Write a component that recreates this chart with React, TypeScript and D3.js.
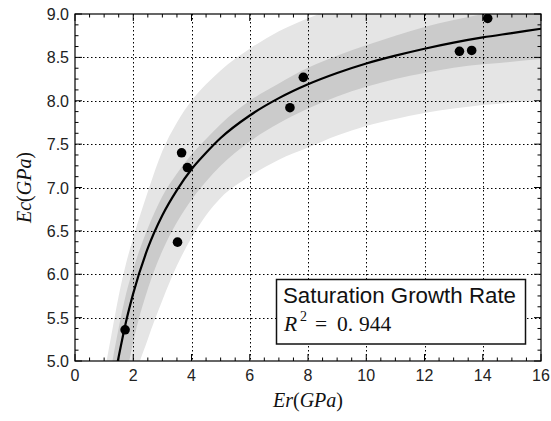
import React from "react";
import * as d3 from "d3";

// ---- data ----
const xTickValues = [0, 2, 4, 6, 8, 10, 12, 14, 16];
const yTickValues = [5.0, 5.5, 6.0, 6.5, 7.0, 7.5, 8.0, 8.5, 9.0];
const xTickLabels = ["0", "2", "4", "6", "8", "10", "12", "14", "16"];
const yTickLabels = ["5.0", "5.5", "6.0", "6.5", "7.0", "7.5", "8.0", "8.5", "9.0"];

// measured points
const pointEr = [1.72, 3.52, 3.66, 3.86, 7.38, 7.84, 13.2, 13.62, 14.17];
const pointEc = [5.36, 6.37, 7.4, 7.23, 7.92, 8.27, 8.57, 8.58, 8.95];

// fitted curve and bands, sampled along Er
const bandEr = [1.0, 1.25, 1.5, 1.75, 2.0, 2.5, 3.0, 3.5, 4.0, 4.5, 5.0, 6.0, 7.0, 8.0, 9.0, 10.0, 11.0, 12.0, 13.0, 14.0, 15.0, 16.0];
const fitEc = [4.1, 4.62, 5.05, 5.45, 5.78, 6.3, 6.68, 6.97, 7.21, 7.4, 7.57, 7.83, 8.03, 8.19, 8.32, 8.43, 8.52, 8.6, 8.67, 8.73, 8.78, 8.83];
const innerUpper = [4.4, 4.93, 5.38, 5.77, 6.06, 6.53, 6.9, 7.16, 7.38, 7.56, 7.73, 8.0, 8.2, 8.38, 8.52, 8.64, 8.75, 8.85, 8.93, 9.0, 9.06, 9.12];
const innerLower = [3.2, 3.8, 4.3, 4.8, 5.22, 5.83, 6.27, 6.6, 6.86, 7.07, 7.25, 7.53, 7.74, 7.91, 8.05, 8.16, 8.25, 8.32, 8.38, 8.42, 8.45, 8.48];
const outerUpper = [4.85, 5.3, 5.75, 6.12, 6.42, 6.95, 7.42, 7.75, 8.0, 8.19, 8.35, 8.6, 8.8, 8.95, 9.08, 9.2, 9.3, 9.38, 9.45, 9.5, 9.55, 9.6];
const outerLower = [2.5, 3.0, 3.6, 4.2, 4.7, 5.25, 5.7, 6.1, 6.42, 6.68, 6.88, 7.13, 7.32, 7.46, 7.6, 7.71, 7.79, 7.86, 7.91, 7.95, 7.98, 8.0];

const legendTitle = "Saturation Growth Rate";

export default function App() {
  const W = 551;
  const H = 421;
  const x = d3.scaleLinear().domain([0, 16]).range([75, 541]);
  const y = d3.scaleLinear().domain([5, 9]).range([361, 14]);
  const [x0, x1] = x.range();
  const [y0, y1] = y.range();
  const crisp = (v: number) => Math.round(v) + 0.5;

  const idx = bandEr.map((_, i) => i);
  const areaOf = (lo: number[], hi: number[]) =>
    d3
      .area<number>()
      .x((i) => x(bandEr[i]))
      .y0((i) => y(lo[i]))
      .y1((i) => y(hi[i]))
      .curve(d3.curveMonotoneX)(idx) as string;
  const fitLine = d3
    .line<number>()
    .x((i) => x(bandEr[i]))
    .y((i) => y(fitEc[i]))
    .curve(d3.curveMonotoneX)(idx) as string;

  const xMinor = d3.range(0, 16.0001, 0.5);
  const yMinor = d3.range(5, 9.0001, 0.125);

  const tickFont = "'Liberation Sans', Arial, sans-serif";
  const mathFont = "'Liberation Serif', 'Times New Roman', serif";

  return (
    <svg
      width={W}
      height={H}
      style={{ position: "absolute", left: 0, top: 0, background: "#fff" }}
    >
      <rect x={0} y={0} width={W} height={H} fill="#fff" />
      <svg x={x0} y={y1} width={x1 - x0} height={y0 - y1} viewBox={`${x0} ${y1} ${x1 - x0} ${y0 - y1}`} overflow="hidden">
        <path d={areaOf(outerLower, outerUpper)} fill="#e5e5e5" />
        <path d={areaOf(innerLower, innerUpper)} fill="#cbcbcb" />
      </svg>
      <g>
        {xTickValues.slice(1, -1).map((t) => (
          <line
            key={"gx" + t}
            x1={crisp(x(t))}
            x2={crisp(x(t))}
            y1={y1}
            y2={y0}
            stroke="#000"
            strokeWidth={1}
            strokeDasharray="1.5,2.5"
          />
        ))}
        {yTickValues.slice(1, -1).map((t) => (
          <line
            key={"gy" + t}
            x1={x0}
            x2={x1}
            y1={crisp(y(t))}
            y2={crisp(y(t))}
            stroke="#000"
            strokeWidth={1}
            strokeDasharray="1.5,2.5"
          />
        ))}
      </g>
      <svg x={x0} y={y1} width={x1 - x0} height={y0 - y1} viewBox={`${x0} ${y1} ${x1 - x0} ${y0 - y1}`} overflow="hidden">
        <path d={fitLine} fill="none" stroke="#000" strokeWidth={2.2} />
        {pointEr.map((v, i) => (
          <circle key={"p" + i} cx={x(v)} cy={y(pointEc[i])} r={4.8} fill="#000" />
        ))}
      </svg>
      {/* ticks */}
      <g stroke="#000" strokeWidth={1}>
        {xMinor.map((t) => {
          const major = Math.abs(t / 2 - Math.round(t / 2)) < 1e-6;
          const len = major ? 7 : 3.5;
          return (
            <g key={"xt" + t}>
              <line x1={x(t)} x2={x(t)} y1={y0} y2={y0 - len} />
              <line x1={x(t)} x2={x(t)} y1={y1} y2={y1 + len} />
            </g>
          );
        })}
        {yMinor.map((t) => {
          const major = Math.abs(t / 0.5 - Math.round(t / 0.5)) < 1e-6;
          const len = major ? 7 : 3.5;
          return (
            <g key={"yt" + t}>
              <line x1={x0} x2={x0 + len} y1={y(t)} y2={y(t)} />
              <line x1={x1} x2={x1 - len} y1={y(t)} y2={y(t)} />
            </g>
          );
        })}
      </g>
      <rect
        x={x0}
        y={y1}
        width={x1 - x0}
        height={y0 - y1}
        fill="none"
        stroke="#000"
        strokeWidth={1.2}
      />
      {/* tick labels */}
      <g fontFamily={tickFont} fontSize={16} fill="#222">
        {xTickValues.map((t, i) => (
          <text key={"xl" + t} x={x(t)} y={y0 + 20} textAnchor="middle">
            {xTickLabels[i]}
          </text>
        ))}
        {yTickValues.map((t, i) => (
          <text key={"yl" + t} x={x0 - 6} y={y(t) + 6} textAnchor="end">
            {yTickLabels[i]}
          </text>
        ))}
      </g>
      {/* axis titles */}
      <text
        x={(x0 + x1) / 2}
        y={407}
        textAnchor="middle"
        fontFamily={mathFont}
        fontSize={20}
        fill="#111"
      >
        <tspan fontStyle="italic">Er</tspan>(<tspan fontStyle="italic">GPa</tspan>)
      </text>
      <text
        transform={`translate(31, ${(y0 + y1) / 2}) rotate(-90)`}
        textAnchor="middle"
        fontFamily={mathFont}
        fontSize={20}
        fill="#111"
      >
        <tspan fontStyle="italic">Ec</tspan>(<tspan fontStyle="italic">GPa</tspan>)
      </text>
      {/* legend box */}
      <rect x={276.5} y={279.5} width={249} height={64.5} fill="#fff" stroke="#111" strokeWidth={1.5} />
      <text x={283} y={302.5} fontFamily={tickFont} fontSize={22.3} fill="#111">
        {legendTitle}
      </text>
      <text y={331} fontFamily={mathFont} fontSize={21.5} fill="#111">
        <tspan x={284} fontStyle="italic">R</tspan>
        <tspan x={300} y={321} fontSize={14}>2</tspan>
        <tspan x={315} y={331}>=</tspan>
        <tspan x={337}>0.</tspan>
        <tspan x={359}>944</tspan>
      </text>
    </svg>
  );
}
